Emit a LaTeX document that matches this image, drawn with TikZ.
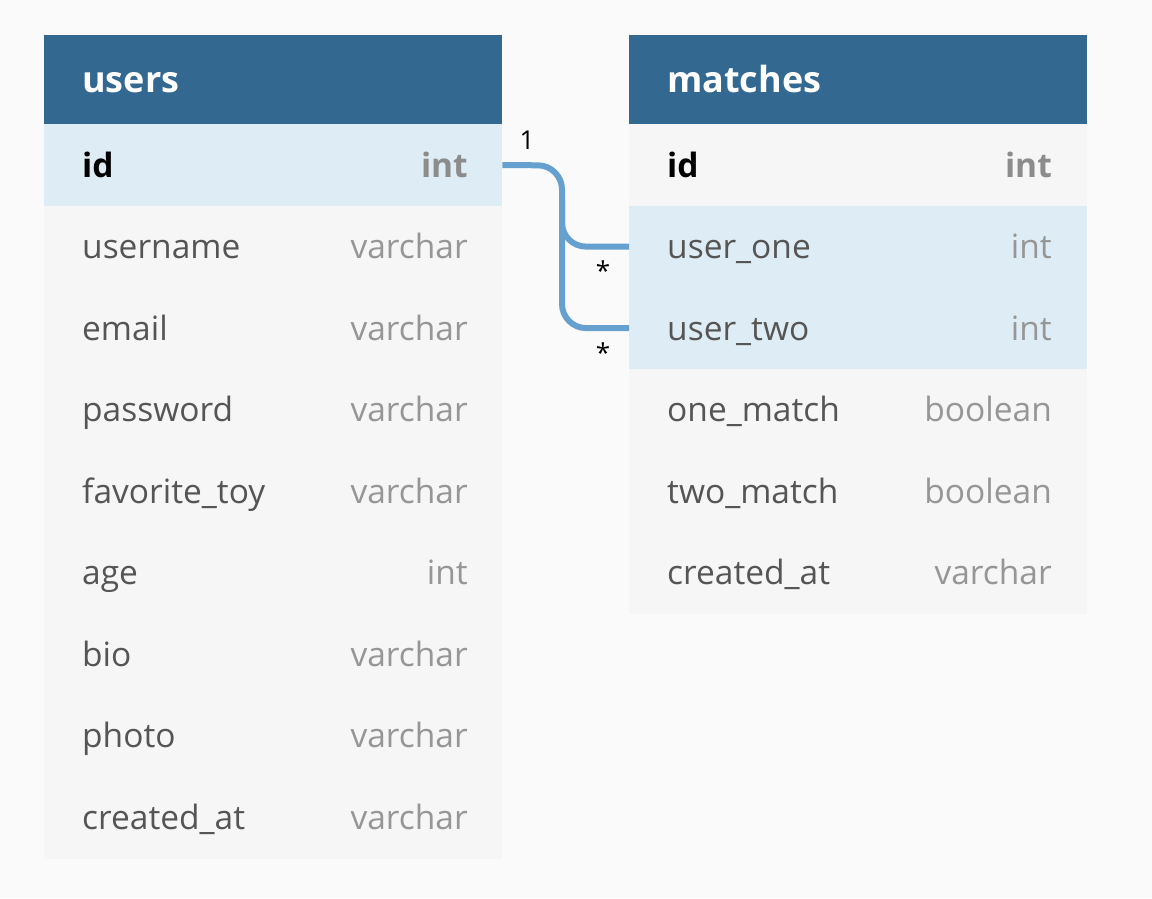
\documentclass[tikz,border=0pt]{standalone}
\usepackage{fontspec}
\setmainfont{Open Sans}
\definecolor{pagebg}{RGB}{250,250,250}
\definecolor{hdr}{RGB}{51,104,145}
\definecolor{rowbg}{RGB}{246,246,246}
\definecolor{hilite}{RGB}{222,237,245}
\definecolor{fname}{RGB}{85,85,85}
\definecolor{ftype}{RGB}{150,150,150}
\definecolor{keytype}{RGB}{140,140,140}
\definecolor{link}{RGB}{102,160,207}
\tikzset{
  x=1pt, y=-1pt,
  hdrbox/.style={fill=hdr, draw=none, minimum width=458pt, minimum height=89pt, anchor=north west, inner sep=0pt},
  rowbox/.style={fill=rowbg, draw=none, minimum width=458pt, minimum height=81.6pt, anchor=north west, inner sep=0pt},
  hirow/.style={rowbox, fill=hilite},
  hdrtext/.style={text=white, font=\fontsize{36}{40}\selectfont\bfseries, anchor=base west, inner sep=0pt},
  fieldtext/.style={text=fname, font=\fontsize{33.5}{38}\selectfont, anchor=base west, inner sep=0pt},
  typetext/.style={text=ftype, font=\fontsize{33.5}{38}\selectfont, anchor=base east, inner sep=0pt},
  keyfield/.style={fieldtext, text=black, font=\fontsize{33.5}{38}\selectfont\bfseries},
  keytyp/.style={typetext, text=keytype, font=\fontsize{33.5}{38}\selectfont\bfseries},
  relline/.style={draw=link, line width=6pt, rounded corners=24pt},
  cardtext/.style={text=black, font=\fontsize{26}{30}\selectfont, inner sep=0pt},
}
\begin{document}
\begin{tikzpicture}
\fill[pagebg] (0,0) rectangle (1152,898);
\useasboundingbox (0,0) rectangle (1152,898);
% users table
\node[hdrbox] (uh) at (44,35) {};
\node[hdrtext] (uht) at (82,92) {users};
\node[hirow] (uid) at (44,124) {};
\node[rowbox] (uun) at (44,205.6) {};
\node[rowbox] (uem) at (44,287.2) {};
\node[rowbox] (upw) at (44,368.8) {};
\node[rowbox] (uft) at (44,450.4) {};
\node[rowbox] (uag) at (44,532) {};
\node[rowbox] (ubi) at (44,613.6) {};
\node[rowbox] (uph) at (44,695.2) {};
\node[rowbox] (uca) at (44,776.8) {};
\node[keyfield] (uidf) at (82,177) {id};
\node[keytyp] (uidt) at (468,177) {int};
\node[fieldtext] (uunf) at (82,258.5) {username};
\node[typetext] (uunt) at (468,258.5) {varchar};
\node[fieldtext] (uemf) at (82,340) {email};
\node[typetext] (uemt) at (468,340) {varchar};
\node[fieldtext] (upwf) at (82,421.5) {password};
\node[typetext] (upwt) at (468,421.5) {varchar};
\node[fieldtext] (uftf) at (82,503) {favorite\_toy};
\node[typetext] (uftt) at (468,503) {varchar};
\node[fieldtext] (uagf) at (82,584.5) {age};
\node[typetext] (uagt) at (468,584.5) {int};
\node[fieldtext] (ubif) at (82,666) {bio};
\node[typetext] (ubit) at (468,666) {varchar};
\node[fieldtext] (uphf) at (82,747.5) {photo};
\node[typetext] (upht) at (468,747.5) {varchar};
\node[fieldtext] (ucaf) at (82,829) {created\_at};
\node[typetext] (ucat) at (468,829) {varchar};
% matches table
\node[hdrbox] (mh) at (629,35) {};
\node[hdrtext] (mht) at (667,92) {matches};
\node[rowbox] (mid) at (629,124) {};
\node[hirow] (mu1) at (629,205.6) {};
\node[hirow] (mu2) at (629,287.2) {};
\node[rowbox] (mom) at (629,368.8) {};
\node[rowbox] (mtm) at (629,450.4) {};
\node[rowbox] (mca) at (629,532) {};
\node[keyfield] (midf) at (667,177) {id};
\node[keytyp] (midt) at (1052,177) {int};
\node[fieldtext] (mu1f) at (667,258.5) {user\_one};
\node[typetext] (mu1t) at (1052,258.5) {int};
\node[fieldtext] (mu2f) at (667,340) {user\_two};
\node[typetext] (mu2t) at (1052,340) {int};
\node[fieldtext] (momf) at (667,421.5) {one\_match};
\node[typetext] (momt) at (1052,421.5) {boolean};
\node[fieldtext] (mtmf) at (667,503) {two\_match};
\node[typetext] (mtmt) at (1052,503) {boolean};
\node[fieldtext] (mcaf) at (667,584.5) {created\_at};
\node[typetext] (mcat) at (1052,584.5) {varchar};
% relations
\coordinate (bend) at (562,200);
\draw[relline] (uid.east) -- (562,165.5) -- (562,328) -- (mu2.west);
\draw[relline] (bend) |- (mu1.west);
\node[cardtext] (c1) at (527,140) {1};
\node[cardtext] (c2) at (603,271) {*};
\node[cardtext] (c3) at (603,353) {*};
\end{tikzpicture}
\end{document}
